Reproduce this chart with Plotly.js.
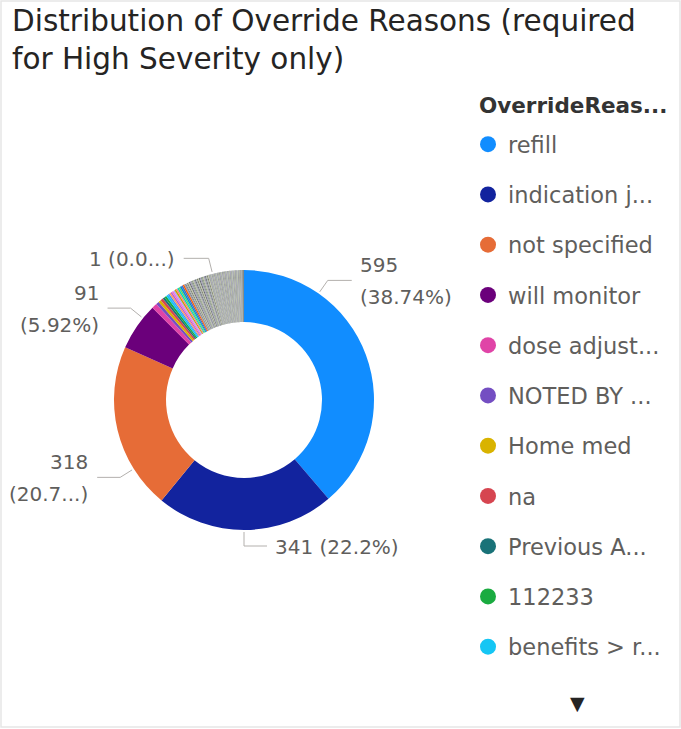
<!DOCTYPE html>
<html>
<head>
<meta charset="utf-8">
<script src="https://cdn.plot.ly/plotly-3.0.1.min.js"></script>
<style>
html,body{margin:0;padding:0;background:#ffffff;}
#chart{width:681px;height:729px;}
</style>
</head>
<body>
<div id="chart"></div>
<script>
// ---------- DATA ----------
const namedCategories = ["refill", "indication j...", "not specified", "will monitor", "dose adjust...",
  "NOTED BY ...", "Home med", "na", "Previous A...", "112233", "benefits > r..."];
const namedValues = [595, 341, 318, 91, 10, 6, 5, 5, 4, 4, 4];

// remaining (unnamed in the visible legend) small reasons, read as thin slices
const otherValues = [
  3, 3, 3, 3, 3, 3, 3, 3, 3, 3, 3, 3,
  2, 2, 2, 2, 2, 2, 2, 2, 2, 2, 2, 2, 2, 2, 2, 2, 2, 2, 2, 2, 2, 2, 2, 2, 2,
  1, 1, 1, 1, 1, 1, 1, 1, 1, 1, 1, 1, 1, 1, 1, 1, 1, 1, 1, 1, 1, 1, 1, 1, 1, 1, 1, 1, 1, 1,
  1, 1, 1, 1, 1, 1, 1, 1, 1, 1, 1, 1, 1, 1, 1, 1, 1, 1, 1, 1, 1, 1, 1, 1, 1, 1, 1, 1, 1, 1,
  1, 1, 1, 1, 1, 1, 1
];
const otherCategories = otherValues.map((v, i) => "other reason " + (i + 1));

const legendTitle = "OverrideReas...";
const chartTitle = "Distribution of Override Reasons (required<br>for High Severity only)";

// ---------- STYLE ----------
const W = 681, H = 729;
const namedColors = ["#118DFF", "#12239E", "#E66C37", "#6B007B", "#E044A7", "#744EC2",
  "#D9B300", "#D64550", "#197278", "#1AAB40", "#15C6F4"];
const nextColors = ["#4092FF", "#FFA058", "#BE5DC9", "#F472D0", "#B5A1FF", "#C4A200",
  "#FF8080", "#00DBBC", "#5BD667", "#0091D5", "#4668C5", "#FF6300"];
const mutedCycle = ["#8c9689", "#b3bd9c", "#9791b0", "#6e7774", "#a7aeb3", "#7f826a",
  "#bcc2ad", "#626a67", "#a098bb", "#889689"];

const allCategories = namedCategories.concat(otherCategories);
const allValues = namedValues.concat(otherValues);
const otherColors = otherValues.map((v, i) => i < nextColors.length ? nextColors[i] : mutedCycle[i % mutedCycle.length]);
otherColors[otherColors.length - 1] = "#5c6260";
otherColors[otherColors.length - 2] = "#555c5a";
otherColors[otherColors.length - 3] = "#6a706e";
const allColors = namedColors.concat(otherColors);

const total = allValues.reduce((a, b) => a + b, 0);

// donut geometry (pixels)
const CX = 244, CY = 400, R = 130;
function px(x) { return x / W; }
function py(y) { return 1 - y / H; }

function pctStr(v) {
  let s = (v / total * 100).toFixed(2).replace(/0+$/, "").replace(/\.$/, "");
  return s + "%";
}

// labels: which slice, where the leader attaches (deg clockwise from top), side, text split, truncation
const labelDefs = [
  { idx: 0, ang: 35, side: "right", twoLine: true, trunc: 0, len: 24 },
  { idx: 1, ang: 180, side: "right", twoLine: false, trunc: 0, len: 23, down: true },
  { idx: 2, ang: 238, side: "left", twoLine: true, trunc: 5, len: 23 },
  { idx: 3, ang: 309, side: "left", twoLine: true, trunc: 0, len: 23 },
  { idx: allValues.length - 1, ang: 346, side: "left", twoLine: false, trunc: 4, len: 25 }
];

const labelFont = { family: "DejaVu Sans", size: 20, color: "#605E5C" };
const annotations = [];
const shapes = [];

labelDefs.forEach(d => {
  const v = allValues[d.idx];
  let p = "(" + pctStr(v) + ")";
  if (d.trunc) p = p.slice(0, d.trunc) + "...)";
  const a = d.ang * Math.PI / 180;
  const ax = CX + (R + 2) * Math.sin(a), ay = CY - (R + 2) * Math.cos(a);
  let ex, ey;
  if (d.down) { ex = CX; ey = CY + R + 16; }
  else { ex = CX + (R + 16) * Math.sin(a); ey = CY - (R + 16) * Math.cos(a); }
  const hx = d.side === "right" ? ex + d.len : ex - d.len;
  shapes.push({
    type: "path", xref: "paper", yref: "paper",
    path: `M ${px(ax)},${py(ay)} L ${px(ex)},${py(ey)} L ${px(hx)},${py(ey)}`,
    line: { color: "#B3B0AD", width: 1 }
  });
  const tx = d.side === "right" ? hx + 6 : hx - 7;
  const anchor = d.side === "right" ? "left" : "right";
  if (d.twoLine) {
    annotations.push({ x: px(tx), y: py(ey - 15), xref: "paper", yref: "paper", text: String(v),
      showarrow: false, xanchor: anchor, yanchor: "middle", font: labelFont });
    annotations.push({ x: px(tx), y: py(ey + 17), xref: "paper", yref: "paper", text: p,
      showarrow: false, xanchor: anchor, yanchor: "middle", font: labelFont });
  } else {
    annotations.push({ x: px(tx), y: py(ey + 1), xref: "paper", yref: "paper", text: v + " " + p,
      showarrow: false, xanchor: anchor, yanchor: "middle", font: labelFont });
  }
});

// legend title (drawn as text above the legend entries)
annotations.push({ x: px(477), y: py(105), xref: "paper", yref: "paper", text: "<b>" + legendTitle + "</b>",
  showarrow: false, xanchor: "left", yanchor: "middle",
  font: { family: "DejaVu Sans", size: 21.5, color: "#333333" } });

// legend scroll arrow
annotations.push({ x: px(577), y: py(703), xref: "paper", yref: "paper", text: "▼", showarrow: false,
  xanchor: "center", yanchor: "middle", font: { family: "DejaVu Sans", size: 19, color: "#252423" } });

// visual frame
shapes.push({ type: "rect", xref: "paper", yref: "paper", x0: px(1), y0: py(727), x1: px(680), y1: py(1),
  line: { color: "#E6E6E6", width: 1.5 }, fillcolor: "rgba(0,0,0,0)" });

const pieTrace = {
  type: "pie",
  labels: allCategories,
  values: allValues,
  marker: { colors: allColors, line: { width: 0 } },
  hole: 0.6,
  sort: false,
  direction: "clockwise",
  rotation: 0,
  textinfo: "none",
  hoverinfo: "label+value+percent",
  showlegend: false,
  domain: { x: [px(CX - R), px(CX + R)], y: [py(CY + R), py(CY - R)] }
};

const legendTraces = namedCategories.map((name, i) => ({
  type: "scatter",
  x: [null], y: [null],
  mode: "markers",
  name: name,
  legendgroup: "g" + i,
  marker: { color: namedColors[i], size: 16 },
  hoverinfo: "skip",
  showlegend: true
}));

const layout = {
  width: W, height: H,
  margin: { l: 0, r: 0, t: 0, b: 0, pad: 0 },
  paper_bgcolor: "#ffffff",
  plot_bgcolor: "rgba(0,0,0,0)",
  xaxis: { visible: false, range: [0, 1], fixedrange: true },
  yaxis: { visible: false, range: [0, 1], fixedrange: true },
  title: {
    text: chartTitle,
    x: px(12), xref: "container", xanchor: "left",
    y: 1 - 31 / H, yref: "container", yanchor: "top",
    font: { family: "DejaVu Sans", size: 29.5, color: "#252423" }
  },
  showlegend: true,
  legend: {
    x: px(468), y: py(123), xanchor: "left", yanchor: "top",
    font: { family: "DejaVu Sans", size: 22.5, color: "#605E5C" },
    traceorder: "grouped",
    tracegroupgap: 18,
    bgcolor: "rgba(0,0,0,0)",
    itemclick: false, itemdoubleclick: false
  },
  annotations: annotations,
  shapes: shapes
};

Plotly.newPlot("chart", [pieTrace].concat(legendTraces), layout, { displayModeBar: false, staticPlot: true });
</script>
</body>
</html>
